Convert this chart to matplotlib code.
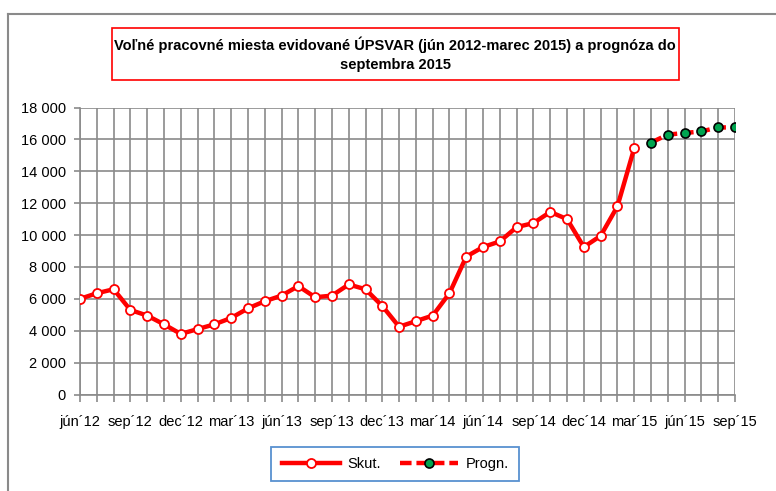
import matplotlib
matplotlib.use("Agg")
import matplotlib.pyplot as plt
from matplotlib.lines import Line2D
from matplotlib.patches import Rectangle
from matplotlib.ticker import FuncFormatter, MultipleLocator

plt.rcParams["font.family"] = ["Liberation Sans Narrow", "Liberation Sans", "DejaVu Sans"]

# údaje (jún 2012 - marec 2015) a prognóza (apríl - september 2015)
actual = [6000, 6350, 6600, 5300, 4950, 4400, 3800, 4100, 4400, 4800,
          5400, 5850, 6200, 6800, 6100, 6200, 6900, 6600, 5550, 4250,
          4600, 4950, 6350, 8650, 9250, 9600, 10500, 10750, 11450, 11000,
          9250, 9950, 11800, 15450]
forecast = [15800, 16300, 16400, 16500, 16750, 16750]
tick_labels = ["jún´12", "sep´12", "dec´12", "mar´13", "jún´13", "sep´13", "dec´13",
               "mar´14", "jún´14", "sep´14", "dec´14", "mar´15", "jún´15", "sep´15"]
title = "Voľné pracovné miesta evidované ÚPSVAR (jún 2012-marec 2015) a prognóza do\nseptembra 2015"

W, H = 776, 491
fig = plt.figure(figsize=(W / 100, H / 100), dpi=100)
ax = fig.add_axes([80 / W, 1 - 394.5 / H, 655 / W, 287 / H])

grid_c = "#8a8a8a"
n_months = len(actual) + len(forecast)
x_act = list(range(len(actual)))
x_fc = list(range(len(actual), n_months))

ax.plot(x_act, actual, color="red", lw=3.2, marker="o", ms=6.5,
        mfc="white", mec="red", mew=1.3, zorder=3, label="Skut.")
ax.plot(x_fc, forecast, color="red", lw=3.2, dashes=(2.6, 1.1), marker="o", ms=6.5,
        mfc="#00a550", mec="black", mew=1.2, zorder=3, label="Progn.")

ax.set_xlim(0, n_months - 1)
ax.set_ylim(0, 18000)
ax.yaxis.set_major_locator(MultipleLocator(2000))
ax.yaxis.set_major_formatter(FuncFormatter(lambda v, p: f"{int(v):,}".replace(",", " ")))
ax.set_xticks(range(0, n_months, 3))
ax.set_xticklabels(tick_labels)
ax.set_xticks(range(n_months), minor=True)

ax.grid(True, which="both", axis="x", color=grid_c, lw=1.2)
ax.grid(True, which="major", axis="y", color=grid_c, lw=1.2)
ax.set_axisbelow(True)
for s in ["top", "right"]:
    ax.spines[s].set_visible(False)
for s in ["left", "bottom"]:
    ax.spines[s].set_color(grid_c)
    ax.spines[s].set_linewidth(1.2)
ax.tick_params(axis="both", which="both", color=grid_c, width=1.2, length=4,
               labelsize=10.5, labelcolor="black")
ax.tick_params(axis="x", which="both", length=5, pad=10)
ax.tick_params(axis="y", pad=6)

# vonkajší rám grafu
fig.add_artist(Line2D([8 / W, 1], [1 - 14 / H, 1 - 14 / H], color=grid_c, lw=1.5))
fig.add_artist(Line2D([8 / W, 8 / W], [0, 1 - 14 / H], color=grid_c, lw=1.5))

# nadpis v rámčeku
fig.add_artist(Rectangle((112 / W, 1 - 80 / H), 567 / W, 52 / H, transform=fig.transFigure,
                         fill=False, edgecolor="red", lw=1.2))
fig.text(395 / W, 1 - 54 / H, title, ha="center", va="center", fontsize=10.5,
         fontweight="bold", linespacing=1.45)

leg = ax.legend(loc="center", bbox_to_anchor=(395 / W, 1 - 464 / H),
                bbox_transform=fig.transFigure, ncol=2, frameon=True, fancybox=False,
                fontsize=10.5, handlelength=4.0, handletextpad=0.5, columnspacing=1.3,
                borderpad=0.7, borderaxespad=0)
leg.get_frame().set_edgecolor("#2f75c4")
leg.get_frame().set_linewidth(1.3)

fig.savefig("out.png", dpi=100)
